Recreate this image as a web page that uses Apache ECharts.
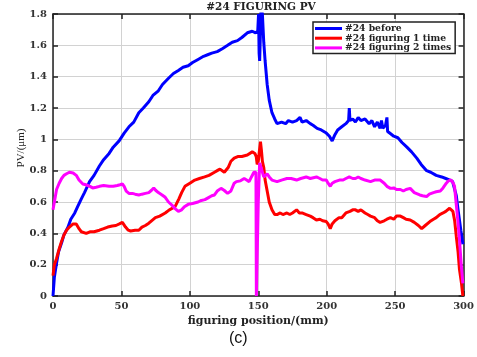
<!DOCTYPE html>
<html><head><meta charset="utf-8">
<script src="https://cdn.jsdelivr.net/npm/echarts@6/dist/echarts.min.js"></script>
<style>html,body{margin:0;padding:0;background:#fff}#c{width:477px;height:357px}</style>
</head><body><div id="c"></div>
<script>
const titleText = "#24 FIGURING PV";
const seriesNames = ["#24 before", "#24 figuring 1 time", "#24 figuring 2 times"];
const xAxisName = "figuring position/(mm)";
const yAxisName = "PV/(μm)";
const panelLabel = "(c)";

const before = [[0,0],[1,0.12],[2.6,0.21],[4,0.28],[6.3,0.34],[8,0.39],[11,0.44],[13,0.49],[15.9,0.53],[18,0.57],[20.7,0.62],[23,0.66],[26.7,0.73],[30,0.77],[33.9,0.83],[37,0.87],[41,0.91],[44,0.95],[48.3,0.99],[52,1.04],[55.5,1.08],[59,1.11],[62.7,1.17],[66,1.20],[70,1.24],[73,1.28],[77,1.31],[80,1.35],[84.4,1.39],[88,1.42],[91.6,1.44],[95,1.46],[98.8,1.47],[102,1.49],[106,1.51],[110,1.53],[113,1.54],[116,1.55],[120,1.56],[124,1.58],[127.6,1.60],[131,1.62],[134.8,1.63],[138,1.65],[142,1.68],[145.6,1.69],[148,1.68],[149.6,1.69],[150.2,1.80],[150.6,1.55],[151.0,1.50],[151.5,1.66],[152,1.85],[153,1.80],[154,1.62],[155,1.50],[156.5,1.35],[158,1.25],[160,1.17],[162,1.13],[163.7,1.10],[167,1.11],[170,1.10],[172,1.12],[175,1.11],[178,1.12],[180.5,1.14],[182,1.11],[185,1.12],[188,1.10],[190,1.09],[193,1.07],[196,1.06],[199.7,1.04],[202,1.02],[204,0.99],[206,1.03],[208,1.06],[211,1.08],[214,1.10],[216,1.12],[216.5,1.20],[217,1.12],[219,1.13],[221,1.11],[223,1.14],[225,1.12],[228,1.13],[231,1.10],[233,1.12],[235,1.08],[237,1.11],[239,1.07],[240,1.12],[241,1.07],[243,1.09],[244,1.14],[244.5,1.05],[246,1.04],[249,1.02],[252,1.01],[255,0.98],[258.6,0.95],[262,0.92],[265.8,0.88],[269,0.84],[273,0.80],[276,0.79],[280,0.77],[284,0.76],[287,0.75],[290,0.74],[292,0.73],[294.7,0.64],[296,0.55],[298,0.42],[299.5,0.33]];

const once = [[0,0.13],[1,0.2],[2.6,0.24],[4.5,0.3],[6.3,0.35],[8,0.39],[9.9,0.42],[12,0.44],[14.7,0.46],[17,0.46],[19,0.43],[20.7,0.41],[22,0.40],[24.3,0.40],[27,0.41],[30,0.41],[33.9,0.42],[37,0.43],[40,0.44],[43.3,0.447],[46,0.45],[48.5,0.46],[50.7,0.47],[52,0.46],[53,0.44],[55,0.42],[56.7,0.415],[60,0.42],[62.7,0.42],[65,0.44],[67.5,0.45],[70,0.465],[72,0.48],[74.8,0.50],[78,0.51],[82,0.53],[85,0.55],[89.2,0.57],[92,0.62],[94,0.66],[96.4,0.70],[100,0.72],[103.6,0.74],[107,0.75],[110.8,0.76],[114,0.77],[118,0.79],[120,0.80],[122,0.81],[125.2,0.79],[128,0.82],[130,0.86],[132.4,0.88],[135,0.89],[138,0.89],[142,0.90],[145.6,0.92],[147.5,0.91],[148.5,0.89],[149.2,0.84],[150,0.86],[151,0.94],[151.6,0.985],[152.3,0.93],[153,0.86],[154,0.82],[155,0.74],[156.5,0.67],[158,0.60],[160,0.55],[162,0.52],[163.7,0.52],[166,0.53],[168,0.52],[170.9,0.53],[173,0.52],[175,0.53],[178,0.55],[180,0.53],[182,0.53],[185,0.52],[188,0.51],[190,0.50],[192.5,0.485],[195,0.49],[197,0.48],[199.7,0.475],[201,0.46],[202.6,0.43],[204,0.46],[206,0.48],[207,0.49],[209,0.50],[211,0.50],[214,0.53],[217,0.54],[219,0.55],[221,0.55],[223,0.54],[225,0.55],[228,0.53],[230,0.52],[232,0.51],[235,0.50],[237,0.48],[239,0.47],[242,0.48],[244,0.49],[246.6,0.50],[249,0.49],[251,0.51],[253.8,0.51],[256,0.50],[258,0.49],[261,0.485],[264,0.47],[267,0.45],[269.4,0.43],[272,0.45],[275.4,0.475],[278,0.49],[280,0.50],[282.6,0.52],[285,0.53],[287,0.54],[289.8,0.56],[291,0.55],[292.2,0.54],[293.5,0.48],[294.7,0.38],[296,0.28],[297,0.17],[298.5,0.08],[299.5,0.0]];

const twice = [[0,0.55],[1,0.6],[2.6,0.68],[4.5,0.72],[6.3,0.75],[8,0.77],[9.9,0.78],[12,0.79],[14.7,0.785],[17,0.77],[19,0.74],[21.8,0.715],[24,0.71],[27,0.70],[29,0.69],[31.5,0.694],[34,0.70],[37,0.705],[41,0.70],[44,0.70],[47,0.705],[49,0.71],[50.7,0.715],[52,0.70],[53.5,0.67],[55.5,0.655],[58,0.655],[60,0.65],[62.7,0.645],[65,0.65],[67.5,0.655],[70,0.66],[72,0.675],[73.6,0.69],[75,0.675],[77,0.66],[79.7,0.645],[82,0.63],[84.4,0.60],[86.9,0.58],[89,0.56],[91.6,0.54],[94,0.55],[96,0.57],[98.8,0.585],[102,0.59],[106,0.60],[108.4,0.61],[111,0.615],[113,0.625],[116,0.64],[118,0.645],[120,0.67],[122.8,0.687],[125,0.675],[127.6,0.655],[130,0.67],[132.4,0.72],[134,0.73],[137,0.735],[139.7,0.75],[141.5,0.74],[143.3,0.73],[145,0.76],[146.8,0.79],[148.3,0.79],[148.6,0.0],[149.3,0.0],[150,0.6],[151,0.85],[152,0.82],[154,0.76],[156.5,0.78],[158,0.76],[160,0.74],[163.7,0.73],[167,0.74],[170.9,0.75],[174,0.75],[178,0.74],[181,0.75],[185,0.76],[188,0.75],[192.5,0.76],[195,0.75],[197,0.74],[199.7,0.74],[201,0.72],[202.6,0.70],[204,0.72],[206,0.73],[209.3,0.74],[212,0.74],[214,0.75],[216.5,0.76],[219,0.75],[221,0.75],[223,0.76],[225,0.75],[228,0.74],[232,0.73],[235,0.74],[239,0.74],[242,0.72],[244,0.70],[246.6,0.687],[249,0.69],[251,0.68],[253.8,0.68],[256,0.67],[258,0.68],[261,0.687],[264,0.66],[268,0.645],[270,0.64],[273,0.635],[275,0.65],[278,0.66],[280,0.665],[283,0.67],[285,0.69],[287.4,0.72],[289,0.735],[291,0.74],[292.5,0.72],[293.4,0.70],[294.5,0.60],[295.8,0.485],[297,0.36],[298.2,0.21],[299.5,0.08]];

const colors = ["#0000ff", "#ff0000", "#ff00ff"];
const serif = "DejaVu Serif";

const chart = echarts.init(document.getElementById('c'));
const fmtY = v => String(Math.round(v * 10) / 10);
const axisCommon = {
  type: 'value', min: 0,
  axisLine: { show: true, onZero: false, lineStyle: { color: '#222', width: 1.5 } },
  axisTick: { show: true, inside: true, length: 5, lineStyle: { color: '#222', width: 1.5 } },
};
chart.setOption({
  animation: false,
  title: { text: titleText, left: 261, top: 2, padding: 0, textAlign: 'center',
    textStyle: { fontFamily: serif, fontSize: 10.5, fontWeight: 'bold', color: '#222' } },
  grid: { left: 53, top: 14, width: 416, height: 282, containLabel: false },
  legend: {
    data: seriesNames, left: 313, top: 22, orient: 'vertical',
    icon: 'rect', itemWidth: 27, itemHeight: 3, itemGap: 0.7,
    padding: [2, 4, 1, 2], borderColor: '#222', borderWidth: 1.5, backgroundColor: '#fff', borderRadius: 0,
    textStyle: { fontFamily: serif, fontSize: 9.2, fontWeight: 'bold', color: '#222', padding: [0,0,0,-2], lineHeight: 9 }
  },
  xAxis: [
    Object.assign({}, axisCommon, { max: 300, interval: 50, position: 'bottom',
      name: xAxisName, nameLocation: 'middle', nameGap: 16,
      nameTextStyle: { fontFamily: serif, fontSize: 11, fontWeight: 'bold', color: '#222' },
      axisLabel: { fontFamily: serif, fontSize: 10, fontWeight: 'bold', color: '#333', margin: 5 },
      splitLine: { show: true, lineStyle: { color: '#d2d2d2', width: 1 } } }),
    Object.assign({}, axisCommon, { max: 300, interval: 50, position: 'top',
      axisLabel: { show: false }, splitLine: { show: false } })
  ],
  yAxis: [
    Object.assign({}, axisCommon, { max: 1.8, interval: 0.2, position: 'left',
      axisLabel: { fontFamily: serif, fontSize: 10, fontWeight: 'bold', color: '#333', margin: 6, formatter: fmtY },
      splitLine: { show: true, lineStyle: { color: '#d2d2d2', width: 1 } } }),
    Object.assign({}, axisCommon, { max: 1.8, interval: 0.2, position: 'right',
      axisLabel: { show: false }, splitLine: { show: false } })
  ],
  series: [
    { name: seriesNames[0], type: 'line', data: before, showSymbol: false, color: colors[0], lineStyle: { width: 3, color: colors[0] }, clip: true, z: 3 },
    { name: seriesNames[1], type: 'line', data: once, showSymbol: false, color: colors[1], lineStyle: { width: 3, color: colors[1] }, clip: true, z: 4 },
    { name: seriesNames[2], type: 'line', data: twice, showSymbol: false, color: colors[2], lineStyle: { width: 3, color: colors[2] }, clip: true, z: 5 }
  ],
  graphic: [
    { type: 'text', x: 21, y: 148, rotation: Math.PI / 2,
      style: { text: yAxisName, font: '11px "Liberation Serif"', fill: '#222', textAlign: 'center', textVerticalAlign: 'middle' } },
    { type: 'text', left: 229, top: 331, style: { text: panelLabel, font: '16px "Liberation Sans"', fill: '#111' } }
  ]
});
</script></body></html>
